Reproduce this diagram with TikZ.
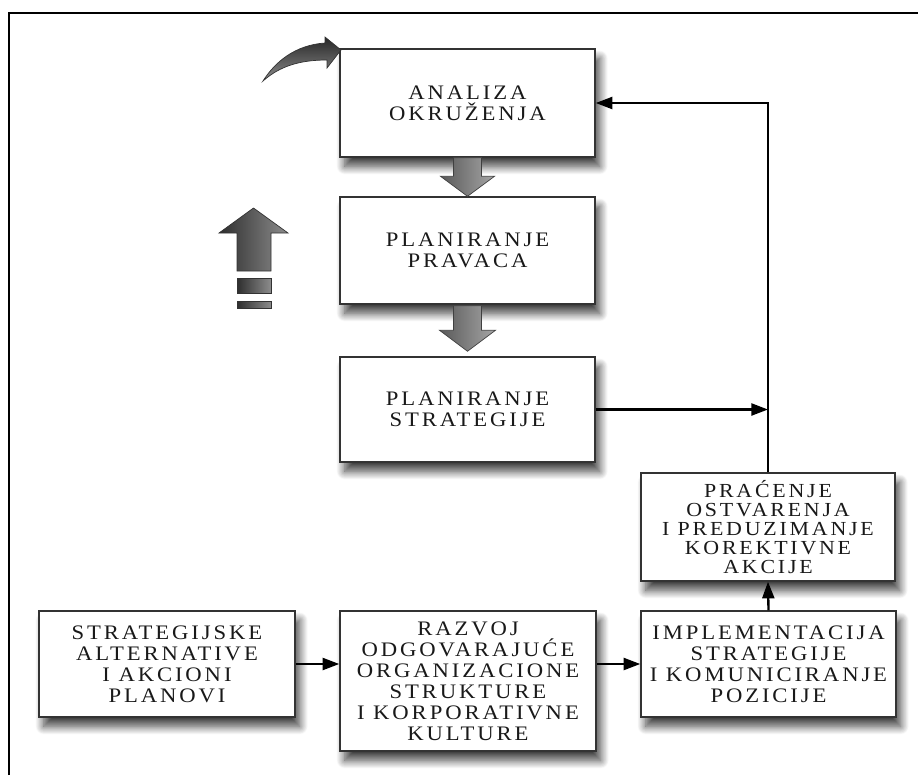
\documentclass[tikz,border=0pt]{standalone}
\usepackage{fontspec}
\setmainfont{Liberation Serif}
\newfontfamily\boxfont{Liberation Serif}[LetterSpace=14,FakeStretch=1.1]
\usetikzlibrary{arrows.meta,calc,shadows.blur}
\newcommand\pxu{0.03cm}

\begin{document}
\begin{tikzpicture}[x=0.03cm,y=-0.03cm,
  box/.style={draw=black!80, line width=1.2pt, fill=white, align=center,
    text=black!90, inner sep=0pt,
    font=\boxfont\fontsize{17.6}{17.9}\selectfont,
    blur shadow={shadow xshift=4pt, shadow yshift=-8pt,
      shadow blur radius=7pt, shadow blur steps=14, shadow opacity=75}},
  tight/.style={font=\boxfont\fontsize{17}{16.2}\selectfont},
  link/.style={line width=2pt, black,
    -{Triangle[length=0.5cm,width=0.36cm]}},
  blockarrow/.style={draw=black!75, line width=0.6pt,
    left color=black!65, right color=black!35},
  bigarrow/.style={draw=black!80, line width=0.6pt,
    left color=black!82, right color=black!45},
  swoosh/.style={draw=black!80, line width=0.6pt,
    top color=black!85, bottom color=black!45},
]
\useasboundingbox (0,0) rectangle (918,775);

% frame
\draw[line width=2.3pt] (9,775) -- (9,13) -- (918,13);

% boxes
\node[box, minimum width=255*\pxu, minimum height=108*\pxu] (A) at (467.5,103)
  {ANALIZA\\OKRUŽENJA};
\node[box, minimum width=255*\pxu, minimum height=107*\pxu] (B) at (467.5,250.5)
  {PLANIRANJE\\PRAVACA};
\node[box, minimum width=255*\pxu, minimum height=105*\pxu] (C) at (467.5,409.5)
  {PLANIRANJE\\STRATEGIJE};
\node[box, tight, minimum width=254*\pxu, minimum height=108*\pxu] (D) at (768,527)
  {PRAĆENJE\\OSTVARENJA\\I PREDUZIMANJE\\KOREKTIVNE\\AKCIJE};
\node[box, minimum width=255*\pxu, minimum height=106*\pxu] (E) at (768.5,664)
  {IMPLEMENTACIJA\\STRATEGIJE\\I KOMUNICIRANJE\\POZICIJE};
\node[box, minimum width=256*\pxu, minimum height=106*\pxu] (F) at (167,664)
  {STRATEGIJSKE\\ALTERNATIVE\\I AKCIONI\\PLANOVI};
\node[box, minimum width=256*\pxu, minimum height=140*\pxu] (G) at (468,681)
  {RAZVOJ\\ODGOVARAJUĆE\\ORGANIZACIONE\\STRUKTURE\\I KORPORATIVNE\\KULTURE};

% shaded block arrows between the upper boxes
\path[blockarrow]
  ($(A.south)+(-14,0)$) -- ($(A.south)+(14,0)$) --
  ($(B.north)+(14,-20)$) -- ($(B.north)+(27,-20)$) -- (B.north) --
  ($(B.north)+(-27,-20)$) -- ($(B.north)+(-14,-20)$) -- cycle;
\path[blockarrow]
  ($(B.south)+(-14,1)$) -- ($(B.south)+(14,1)$) --
  ($(C.north)+(14,-26)$) -- ($(C.north)+(28,-26)$) -- ($(C.north)+(0,-5)$) --
  ($(C.north)+(-28,-26)$) -- ($(C.north)+(-14,-26)$) -- cycle;

% feedback loop
\draw[link] (D.north) |- (A.east);
\draw[link] (C.east) -- (C.east -| D.north);

% lower chain
\draw[link] (F.east) -- (F.east -| G.west);
\draw[link] (E.west -| G.east) -- (E.west);
\draw[link] (E.north) -- (D.south);

% upward arrow with bars
\path[bigarrow] (237,271) -- (237,233) -- (219,233) -- (253.5,208) --
  (288,233) -- (271,233) -- (271,271) -- cycle;
\path[bigarrow] (237,278) rectangle (271,293);
\path[bigarrow] (237,301) rectangle (271,308);

% curved arrow entering the first box
\path[swoosh] (263,81) .. controls (275,62) and (295,45) .. (325,43) --
  (325,37) -- (341,50) -- (327,68) -- (327,60)
  .. controls (300,60) and (280,66) .. (263,81) -- cycle;
\end{tikzpicture}
\end{document}
